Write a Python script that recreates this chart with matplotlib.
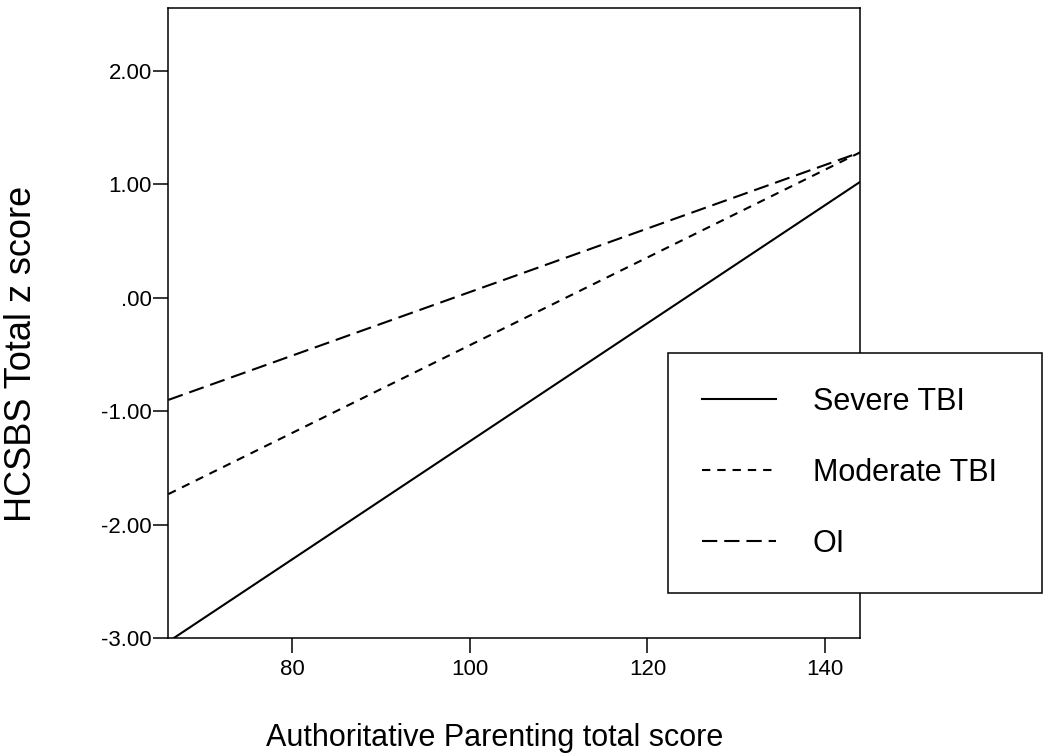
import matplotlib
matplotlib.use("Agg")
import matplotlib.pyplot as plt

plt.rcParams['font.family'] = ['Liberation Sans', 'DejaVu Sans']
plt.rcParams['lines.scale_dashes'] = False

# regression lines, values at both ends of the x range
x_ends = [66.1, 143.9]
severe = [-3.03, 1.02]
moderate = [-1.73, 1.28]
oi = [-0.90, 1.28]

yticks = [2.0, 1.0, 0.0, -1.0, -2.0, -3.0]
ytick_labels = ['2.00', '1.00', '.00', '-1.00', '-2.00', '-3.00']
xticks = [80, 100, 120, 140]

fig = plt.figure(figsize=(10.5, 7.56), dpi=100)
ax = fig.add_axes([0.1603, 0.1557, 0.6587, 0.8333])

ax.plot(x_ends, severe, color='black', lw=1.5, label='Severe TBI')
ax.plot(x_ends, moderate, color='black', lw=1.5, dashes=(6, 5), label='Moderate TBI')
ax.plot(x_ends, oi, color='black', lw=1.5, dashes=(11, 5), label='OI')

ax.set_xlim(66.1, 143.9)
ax.set_ylim(-3.0, 2.55)
ax.set_xticks(xticks)
ax.set_yticks(yticks)
ax.set_yticklabels(ytick_labels)

for s in ax.spines.values():
    s.set_linewidth(1.1)
ax.tick_params(axis='both', length=10.8, width=1.1, labelsize=16, colors='black')
ax.tick_params(axis='y', pad=1)
ax.tick_params(axis='x', pad=4)

fig.text(495 / 1050, 1 - 746 / 756, 'Authoritative Parenting total score',
         fontsize=22, ha='center', va='baseline')
fig.text(22 / 1050, 1 - 354 / 756, 'HCSBS Total z score',
         fontsize=26, ha='center', va='center', rotation=90)

leg = fig.legend(loc='upper left', bbox_to_anchor=(668 / 1050, 1 - 588 / 756, 374 / 1050, 235 / 756),
                 mode='expand', borderaxespad=0, fontsize=22, frameon=True, fancybox=False,
                 handlelength=2.45, handletextpad=1.18, borderpad=1.1, labelspacing=1.35)
leg.get_frame().set_edgecolor('black')
leg.get_frame().set_linewidth(1.1)
leg.get_frame().set_alpha(1)

fig.savefig('out.png', dpi=100)
